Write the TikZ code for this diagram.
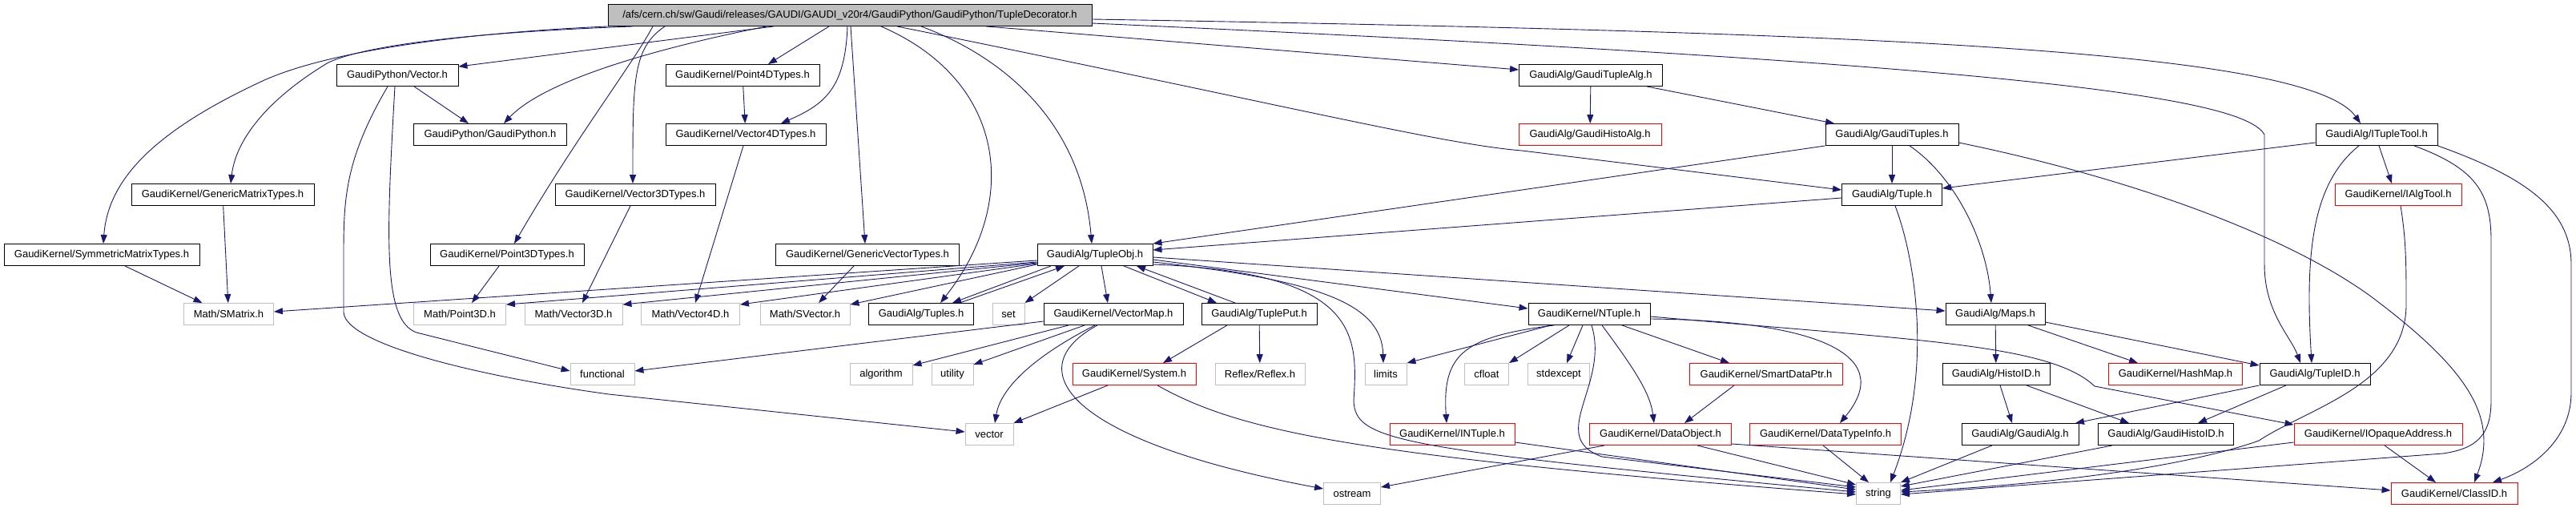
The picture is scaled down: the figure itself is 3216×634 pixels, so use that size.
\documentclass[tikz,border=0pt]{standalone}
\usepackage{fontspec}
\setmainfont{Liberation Sans}
\usepackage{tikz}
\usetikzlibrary{arrows.meta}
\definecolor{edgeblue}{HTML}{191970}
\definecolor{boxgray}{HTML}{BFBFBF}

\begin{document}
\begin{tikzpicture}[x=1pt, y=-1pt,
    hdr/.style={draw=black, rectangle, fill=white, line width=0.9pt, minimum height=27pt, inner sep=0pt, font=\fontsize{13}{15}\selectfont},
    trunc/.style={hdr, draw=red},
    sysbox/.style={hdr, draw=boxgray},
    inc/.style={draw=edgeblue, line width=0.9pt, -{Triangle[length=11pt, width=8pt]}}]
    \useasboundingbox (0,0) rectangle (3216,634);
    \fill [white] (0,0) rectangle (3216,634);
    % Nodes
    \node [hdr, fill=boxgray, minimum width=604pt] (root) at (1061,19) {/afs/cern.ch/sw/Gaudi/releases/GAUDI/GAUDI\_v20r4/GaudiPython/GaudiPython/TupleDecorator.h};

    \node [hdr, minimum width=152pt] (vec) at (496,94) {GaudiPython/Vector.h};
    \node [hdr, minimum width=192pt] (p4dt) at (927,94) {GaudiKernel/Point4DTypes.h};
    \node [hdr, minimum width=179pt] (gta) at (1986,94) {GaudiAlg/GaudiTupleAlg.h};

    \node [hdr, minimum width=191pt] (gpy) at (612,168) {GaudiPython/GaudiPython.h};
    \node [hdr, minimum width=200pt] (v4dt) at (931,168) {GaudiKernel/Vector4DTypes.h};
    \node [trunc, minimum width=178pt] (gha) at (1985,168) {GaudiAlg/GaudiHistoAlg.h};
    \node [hdr, minimum width=166pt] (gtuples) at (2362,168) {GaudiAlg/GaudiTuples.h};
    \node [hdr, minimum width=152pt] (itt) at (2967,168) {GaudiAlg/ITupleTool.h};

    \node [hdr, minimum width=228pt] (gmt) at (278,243) {GaudiKernel/GenericMatrixTypes.h};
    \node [hdr, minimum width=200pt] (v3dt) at (793,243) {GaudiKernel/Vector3DTypes.h};
    \node [hdr, minimum width=125pt] (tuple) at (2362,243) {GaudiAlg/Tuple.h};
    \node [trunc, minimum width=158pt] (ialg) at (2994,243) {GaudiKernel/IAlgTool.h};

    \node [hdr, minimum width=244pt] (smt) at (127,318) {GaudiKernel/SymmetricMatrixTypes.h};
    \node [hdr, minimum width=192pt] (p3dt) at (633,318) {GaudiKernel/Point3DTypes.h};
    \node [hdr, minimum width=229pt] (gvt) at (1083,318) {GaudiKernel/GenericVectorTypes.h};
    \node [hdr, minimum width=144pt] (tobj) at (1367,318) {GaudiAlg/TupleObj.h};

    \node [sysbox, minimum width=112pt] (smat) at (285.5,392) {Math/SMatrix.h};
    \node [sysbox, minimum width=115pt] (p3d) at (574,392) {Math/Point3D.h};
    \node [sysbox, minimum width=122pt] (v3d) at (716,392) {Math/Vector3D.h};
    \node [sysbox, minimum width=123pt] (v4d) at (862,392) {Math/Vector4D.h};
    \node [sysbox, minimum width=112pt] (svec) at (1005,392) {Math/SVector.h};
    \node [hdr, minimum width=131pt] (tuples) at (1150,392) {GaudiAlg/Tuples.h};
    \node [sysbox, minimum width=40pt] (set) at (1259,392) {set};
    \node [hdr, minimum width=174pt] (vmap) at (1390,392) {GaudiKernel/VectorMap.h};
    \node [hdr, minimum width=144pt] (tput) at (1572,392) {GaudiAlg/TuplePut.h};
    \node [hdr, minimum width=152pt] (ntuple) at (1984,392) {GaudiKernel/NTuple.h};
    \node [hdr, minimum width=124pt] (maps) at (2491,392) {GaudiAlg/Maps.h};

    \node [sysbox, minimum width=80pt] (func) at (752,467) {functional};
    \node [sysbox, minimum width=78pt] (algo) at (1100,467) {algorithm};
    \node [sysbox, minimum width=52pt] (util) at (1189,467) {utility};
    \node [trunc, minimum width=154pt] (sys) at (1416,467) {GaudiKernel/System.h};
    \node [sysbox, minimum width=112pt] (reflex) at (1573,467) {Reflex/Reflex.h};
    \node [sysbox, minimum width=52pt] (limits) at (1730,467) {limits};
    \node [sysbox, minimum width=55pt] (cfloat) at (1856,467) {cfloat};
    \node [sysbox, minimum width=77pt] (stdexc) at (1946,467) {stdexcept};
    \node [trunc, minimum width=191pt] (sdp) at (2205,467) {GaudiKernel/SmartDataPtr.h};
    \node [hdr, minimum width=134pt] (hid) at (2492,467) {GaudiAlg/HistoID.h};
    \node [trunc, minimum width=167pt] (hmap) at (2716,467) {GaudiKernel/HashMap.h};
    \node [hdr, minimum width=138pt] (tid) at (2890,467) {GaudiAlg/TupleID.h};

    \node [sysbox, minimum width=60pt] (vector) at (1235,542) {vector};
    \node [trunc, minimum width=156pt] (intuple) at (1813,542) {GaudiKernel/INTuple.h};
    \node [trunc, minimum width=177pt] (dobj) at (2073,542) {GaudiKernel/DataObject.h};
    \node [trunc, minimum width=189pt] (dti) at (2279,542) {GaudiKernel/DataTypeInfo.h};
    \node [hdr, minimum width=146pt] (galg) at (2522,542) {GaudiAlg/GaudiAlg.h};
    \node [hdr, minimum width=169pt] (ghid) at (2704,542) {GaudiAlg/GaudiHistoID.h};
    \node [trunc, minimum width=210pt] (iopa) at (2969,542) {GaudiKernel/IOpaqueAddress.h};

    \node [sysbox, minimum width=71pt] (ostream) at (1688,616) {ostream};
    \node [sysbox, minimum width=55pt] (str) at (2345,616) {string};
    \node [trunc, minimum width=158pt] (classid) at (3064,616) {GaudiKernel/ClassID.h};

    % Arrows
    \draw [inc] (root.south west) .. controls (600,40) and (420,60) .. (330,100) .. controls (200,160) and (135,220) .. ([xshift=2]smt.north);
    \draw [inc] ([xshift=-271]root.south) .. controls (600,40) and (460,55) .. (410,78) .. controls (340,120) and (295,170) .. ([xshift=10]gmt.north);
    \draw [inc] ([xshift=-95]root.south) -- ([yshift=-3]vec.north east);
    \draw [inc] ([xshift=-104]root.south) .. controls (820,60) and (680,100) .. ([xshift=17]gpy.north);
    \draw [inc] ([xshift=-246]root.south) .. controls (790,80) and (720,170) .. ([xshift=9]p3dt.north);
    \draw [inc] ([xshift=-231]root.south) .. controls (790,60) and (790,100) .. ([xshift=-3]v3dt.north);
    \draw [inc] ([xshift=-26]root.south) -- ([xshift=32]p4dt.north);
    \draw [inc] ([xshift=-3]root.south) .. controls (1055,110) and (1030,130) .. ([xshift=44]v4dt.north);
    \draw [inc] (p4dt) -- (v4dt);
    \draw [inc] ([xshift=1]root.south) -- ([xshift=-3]gvt.north);
    \draw [inc] ([xshift=39]root.south) .. controls (1255,100) and (1275,250) .. ([xshift=24]tuples.north);
    \draw [inc] ([xshift=89]root.south) .. controls (1250,70) and (1350,150) .. ([xshift=-4]tobj.north);
    \draw [inc] ([xshift=59]root.south) .. controls (1600,130) and (1800,180) .. (1900,188) -- ([yshift=6]tuple.west);
    \draw [inc] ([xshift=170]root.south) -- ([yshift=7]gta.west);
    \draw [inc] ([yshift=-5]root.east) .. controls (2300,40) and (2880,60) .. ([xshift=-20]itt.north);
    \draw [inc] ([yshift=-10]root.east) .. controls (2500,80) and (2800,120) .. (2827,168) -- (2827,330) .. controls (2827,390) and (2860,420) .. ([xshift=-18]tid.north);

    \draw [inc] (gta) -- (gha);
    \draw [inc] ([xshift=70]gta.south) -- ([xshift=-72]gtuples.north);
    \draw [inc] (gtuples) -- (tuple);
    \draw [inc] (gtuples.south west) -- (tobj.north east);
    \draw [inc] ([yshift=-4]tuple.west) -- ([yshift=6]tobj.east);
    \draw [inc] ([xshift=22]gtuples.south) .. controls (2440,220) and (2480,300) .. ([xshift=-5]maps.north);
    \draw [inc] ([yshift=-10]gtuples.east) .. controls (2650,220) and (2850,290) .. (2960,370) .. controls (3080,460) and (3120,520) .. ([xshift=25]classid.north);

    \draw [inc] ([yshift=-10]itt.west) -- ([yshift=8]tuple.east);
    \draw [inc] ([xshift=3]itt.south) -- ([xshift=-8]ialg.north);
    \draw [inc] ([xshift=-22]itt.south) .. controls (2885,230) and (2878,320) .. ([xshift=-4]tid.north);
    \draw [inc] ([xshift=47]itt.south) .. controls (3090,210) and (3110,240) .. (3110,300) -- (3110,500) .. controls (3110,545) and (3090,560) .. (3050,566) -- ([yshift=-1]str.east);
    \draw [inc] (itt.south east) .. controls (3150,220) and (3210,260) .. (3210,330) -- (3210,490) .. controls (3210,550) and (3160,585) .. ([xshift=48]classid.north);
    \draw [inc] ([xshift=3]ialg.south) .. controls (3004,300) and (3004,330) .. (3004,380) .. controls (3004,480) and (2880,510) .. (2820,550) .. controls (2720,585) and (2550,605) .. ([yshift=2]str.east);

    \draw [inc] ([yshift=-7]tobj.west) -- ([yshift=3]smat.east);
    \draw [inc] ([yshift=-9]tobj.west) -- ([yshift=-2]p3d.north east);
    \draw [inc] ([yshift=-10]tobj.west) -- ([yshift=-2]v3d.north east);
    \draw [inc] ([yshift=-11]tobj.west) -- ([yshift=-2]v4d.north east);
    \draw [inc] ([yshift=-12]tobj.west) -- ([yshift=-2]svec.north east);
    \draw [inc] ([xshift=-55]tobj.south) -- ([xshift=39]tuples.north);
    \draw [inc] ([xshift=48]tuples.north) -- ([xshift=-38]tobj.south);
    \draw [inc] ([xshift=-20]tobj.south) -- (set.north east);
    \draw [inc] ([xshift=8]tobj.south) -- ([xshift=-7]vmap.north);
    \draw [inc] ([xshift=36]tobj.south) -- ([xshift=-53]tput.north);
    \draw [inc] ([xshift=-30]tput.north) -- ([xshift=52]tobj.south);
    \draw [inc] ([yshift=-9]tobj.east) .. controls (1650,350) and (1725,380) .. ([xshift=-3]limits.north);
    \draw [inc] ([yshift=-12]tobj.east) .. controls (1700,340) and (1695,420) .. (1690,500) .. controls (1692,550) and (1740,560) .. ([yshift=2]str.west);
    \draw [inc] ([yshift=-6]tobj.east) -- ([yshift=7]ntuple.west);
    \draw [inc] ([yshift=-3]tobj.east) -- ([yshift=4]maps.west);

    \draw [inc] ([yshift=-9]vmap.west) -- ([yshift=4]func.east);
    \draw [inc] ([xshift=-56]vmap.south) -- ([yshift=-3]algo.north east);
    \draw [inc] ([xshift=-36]vmap.south) -- ([yshift=-2]util.north east);
    \draw [inc] ([xshift=-23]vmap.south) .. controls (1300,440) and (1250,480) .. ([xshift=7]vector.north);
    \draw [inc] ([xshift=-20]vmap.south) .. controls (1270,460) and (1330,550) .. ([yshift=6]ostream.west);
    \draw [inc] ([xshift=-40]tput.south) -- ([xshift=36]sys.north);
    \draw [inc] (tput) -- (reflex);
    \draw [inc] ([xshift=-33]sys.south) -- (vector.north east);
    \draw [inc] ([xshift=29]sys.south) .. controls (1550,540) and (1700,570) .. ([yshift=-1]str.west);

    \draw [inc] ([xshift=21]vec.south) -- ([xshift=-27]gpy.north);
    \draw [inc] ([xshift=-3]vec.south) .. controls (482,300) and (478,400) .. (520,415) -- ([yshift=4]func.west);
    \draw [inc] ([xshift=-12]vec.south) .. controls (430,200) and (429,250) .. (429,320) -- (429,390) .. controls (432,430) and (600,470) .. (760,492) -- ([yshift=3]vector.west);
    \draw [inc] ([xshift=-10]p3dt.south) -- ([xshift=15]p3d.north);
    \draw [inc] ([xshift=-6]v3dt.south) -- ([xshift=11]v3d.north);
    \draw [inc] ([xshift=-3]v4dt.south) -- ([xshift=6]v4d.north);
    \draw [inc] ([xshift=-17]gvt.south) -- ([xshift=17]svec.north);
    \draw [inc] (gmt) -- (smat);
    \draw [inc] ([xshift=29]smt.south) -- ([xshift=-33]smat.north);

    \draw [inc] ([xshift=-48]ntuple.south) -- (limits.north east);
    \draw [inc] ([xshift=-44]ntuple.south) .. controls (1830,420) and (1800,440) .. ([xshift=-7]intuple.north);
    \draw [inc] ([xshift=-25]ntuple.south) -- (cfloat.north east);
    \draw [inc] ([xshift=-8]ntuple.south) -- ([xshift=10]stdexc.north);
    \draw [inc] ([xshift=3]ntuple.south) .. controls (2010,480) and (1930,545) .. (2000,570) -- ([yshift=8]str.west);
    \draw [inc] ([xshift=16]ntuple.south) .. controls (2040,460) and (2060,490) .. ([xshift=-8]dobj.north);
    \draw [inc] ([xshift=41]ntuple.south) -- ([xshift=-46]sdp.north);
    \draw [inc] ([yshift=-6]ntuple.east) .. controls (2260,400) and (2370,440) .. ([xshift=18]dti.north);
    \draw [inc] ([yshift=-3]ntuple.east) .. controls (2400,425) and (2560,430) .. (2615,482) -- ([yshift=-2]iopa.north west);

    \draw [inc] ([yshift=-10]intuple.east) -- ([yshift=5]str.west);
    \draw [inc] ([xshift=-40]sdp.south) -- ([xshift=30]dobj.north);
    \draw [inc] ([xshift=-3]dti.south) -- ([xshift=-12]str.north);
    \draw [inc] ([xshift=46]dobj.south) -- ([yshift=11]str.west);
    \draw [inc] ([xshift=-70]dobj.south) -- ([yshift=8]ostream.east);
    \draw [inc] ([yshift=-12]dobj.east) -- ([yshift=4]classid.west);
    \draw [inc] ([xshift=4]tuple.south) .. controls (2390,320) and (2415,460) .. ([xshift=15]str.north);

    \draw [inc] (maps) -- (hid);
    \draw [inc] ([xshift=41]maps.south) -- ([xshift=-47]hmap.north);
    \draw [inc] ([yshift=-10]maps.east) -- ([yshift=-3]tid.north west);
    \draw [inc] ([xshift=5]hid.south) -- ([xshift=-10]galg.north);
    \draw [inc] ([xshift=38]hid.south) -- ([xshift=-46]ghid.north);
    \draw [inc] (tid.south west) -- ([xshift=69]galg.north);
    \draw [inc] ([xshift=-36]tid.south) -- ([xshift=40]ghid.north);
    \draw [inc] ([xshift=-35]galg.south) -- (str.north east);
    \draw [inc] ([xshift=-67]ghid.south) -- ([yshift=9]str.east);
    \draw [inc] ([yshift=-10]iopa.west) -- ([yshift=4]str.east);
    \draw [inc] ([xshift=8]iopa.south) -- ([xshift=-23]classid.north);
\end{tikzpicture}
\end{document}
